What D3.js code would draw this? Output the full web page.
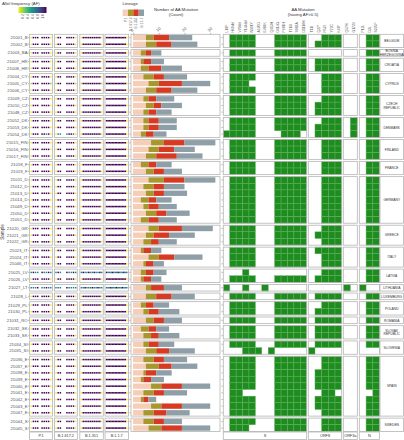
<!DOCTYPE html>
<html><head><meta charset="utf-8">
<script src="https://cdn.jsdelivr.net/npm/d3@7"></script>
<style>body{margin:0;background:#fff} svg text{font-family:"Liberation Sans",Arial,sans-serif}</style>
</head><body><svg id="c" width="404" height="440"></svg>
<script>
// ---------------- DATA ----------------
const samples = ["21001_B","21002_B","21003_BA","21007_HR","21008_HR","21004_CY","21005_CY","21006_CY","21009_CZ","21010_CZ","21048_CZ","21052_DK","21053_DK","21054_DK","21015_FIN","21016_FIN","21017_FIN","21018_F","21019_F","21011_D","21012_D","21013_D","21014_D","21049_D","21050_D","21051_D","21020_GR","21021_GR","21022_GR","21023_IT","21024_IT","21046_IT","21025_LV","21026_LV","21027_LT","21028_L","21029_PL","21030_PL","21031_RO","21032_SK","21033_SK","21034_SI","21035_SI","21036_E","21037_E","21038_E","21039_E","21040_E","21041_E","21042_E","21043_E","21047_E","21044_S","21045_S"];
const countries = ["BELGIUM","BOSNIA|HERZEGOVINA","CROATIA","CYPRUS","CZECH|REPUBLIC","DENMARK","FINLAND","FRANCE","GERMANY","GREECE","ITALY","LATVIA","LITHUANIA","LUXEMBURG","POLAND","ROMANIA","SLOVAK|REPUBLIC","SLOVENIA","SPAIN","SWEDEN"];
const countrySize = [2,1,2,3,3,3,3,2,7,3,3,2,1,1,2,1,2,2,9,2];
const lineages = ["P.1","B.1.617.2","B.1.351","B.1.1.7"];
const lineageColors = ["#F6CDB6","#A7972C","#D63A22","#8F9FA8"];

// Number of AA mutations per lineage (count)
const countP1    = [5,5,3,3,3,4,6,5,4,5,4,4,4,3,7,6,5,3,5,6,4,5,3,4,5,3,6,5,4,3,6,4,3,3,5,5,3,4,5,3,4,4,5,4,5,4,3,7,4,3,7,4,4,6];
const countDelta = [3,4,2,1,3,4,4,4,2,3,2,2,2,2,5,4,4,3,3,6,4,3,3,2,4,3,4,3,3,1,4,1,2,1,2,4,2,2,3,3,3,2,4,4,5,1,1,4,4,1,4,4,4,5];
const countBeta  = [6,6,2,3,5,4,9,6,3,3,3,4,4,3,8,6,8,3,4,8,4,4,3,4,4,4,9,6,3,3,6,3,3,3,5,6,3,4,4,3,3,4,5,4,5,4,3,8,4,2,8,5,4,8];
const countAlpha = [9,10,4,5,8,9,11,10,7,8,6,7,7,5,12,8,10,6,7,12,8,9,6,7,9,7,12,10,7,4,11,4,5,4,7,9,6,8,7,5,8,6,10,9,10,6,5,11,9,3,11,9,7,11];

// Allele frequency per lineage-marker position (digit 0..9 = AF 0..0.9+, '.' = not detected)
const afP1 = ["0999.99990","0999.99990","0999.99990","0999.99990","0999.99990","0999.99990","1999.99992","0999.99990","0999.99990","0999.99990","0999.99990","0999.99990","0999.99990","0999.99590","0999.99990","0999.99990","0999.99990","0999.99990","0999.99990","0999.99990","0999.99990","0999.99990","0999.99990","0999.99990","0999.99990","0999.99990","0999.99990","0999.99990","0999.99990","0999.99990","0999.99990","0999.99990","5955.95595","0999.99990","5559.55955","0999.99990","0999.99990","0999.99990","0999.99990","0999.99990","0999.99990","0999.99990","0999.99990","0999.99990","0999.99990","0999.99990","0999.99990","0999.99990","0999.99990","0999.99990","0999.99990","0999.99990","0999.99990","0999.99990"];
const afDelta = ["099..99990","099..99990","099..99990","099..99990","099..99990","099..99990","199..99991","099..99990","099..99990","099..99990","099..99990","099..99990","099..99990","055..59950","099..99990","099..99990","099..99990","099..99990","099..99990","099..99990","099..99990","099..99990","099..99990","099..99990","099..99990","099..99990","099..99990","099..99990","099..99990","099..99990","099..99990","099..99990","595..95595","099..99990","555..95555","099..99990","099..99990","099..99990","099..99990","099..99990","099..99990","099..99990","099..99990","099..99990","099..99990","099..99990","099..99990","099..99990","099..99990","099..99990","099..99990","099..99990","099..99990","099..99990"];
const afBeta = ["099999999990","099999999990","099999999990","099999999990","099999999990","099999999990","199999999991","099999999990","099999999990","099999999990","099999999990","099999999990","099999999990","099999999990","099999999990","099999999990","099999999990","099999999990","099999999990","099999999990","099999999990","099999999990","099999999990","099999999990","099999999990","099999999990","099999999990","099999999990","099999999990","099999999990","099999999990","099999999990","595595595595","099999999990","559555955955","099999999990","099999999990","099999999990","099999999990","099999999990","099999999990","099999999990","099999999990","099999999990","099999999990","099999999990","099999999990","099999999990","099999999990","099999999990","099999999990","099999999990","099999999990","099999999990"];
const afAlpha = ["999999999999990","999999999999990","999999999999990","999999999999990","999999999999990","999999999999990","999999999999991","999999999999990","999999999999990","999999999999990","999999999999990","999999999999990","999999999999990","999999999999990","999999999999990","999999999999990","999999999999990","999999999999990","999999999999990","999999999999990","999999999999990","999999999999990","999999999999990","999999999999990","999999999999990","999999999999990","999999999999990","999999999999990","999999999999990","999999999999990","999999999999990","999999999999990","955595559555955","999999999999990","555955595559555","999999999999990","999999999999990","999999999999990","999999999999990","999999999999990","999999999999990","999999999999990","999999999999990","999999999999990","999999999999990","999999999999990","999999999999990","999999999999990","999999999999990","999999999999990","999999999999990","999999999999990","999999999999990","999999999999990"];

// AA mutations having AF>0.5
const genes = ["S","ORF8","ORF3a","N"];
const mutS = ["L18F","H69del","V70del","Y144del","N501Y","A570D","E484K","Q613H","D614G","P681H","T716I","S982A","D1118H"];
const mutORF8 = ["T11I","Q27*","R52I","Y73C","K68*"];
const mutORF3a = ["Q57H","G172V"];
const mutN = ["P13L","D3L","S235F"];
const hitS = ["0111100011111","0111100011111","0111100011111","0111100011111","0111100011111","0111100011111","0111000011111","0111100011111","0111100011111","0111100011111","0111100011111","0111100011111","0111100011111","1111100001110","0111100011111","0111100011111","0111100011111","0111100011111","0111100011111","0111100011111","0111100011111","0111100011111","0111100011111","0111100011111","0111100011111","0111100011111","0111100011111","0111100011111","0111100011111","0111100011111","0111100011111","0111100011111","0001000000000","0111100011111","1001001000000","0111100011111","0111100011111","0111100011111","0111100011111","0111100011111","0111100011111","0111100011111","0001110100000","0111100011111","0111100011111","0111100011111","0111100011111","0111100011111","0110000011111","0111100011111","0111100011111","0111100011111","0111100011111","0111000011111"];
const hitORF8 = ["00111","01111","00000","01111","01111","00111","00111","00111","00111","01111","01111","00111","01111","01111","00111","00111","00111","00111","00111","00111","00111","00111","00111","00111","00111","00111","00111","01111","00111","01111","00111","00111","00111","01111","00000","01111","00111","01111","01111","01111","01111","01111","10000","00111","00111","01111","01111","01111","00110","01111","01111","00111","00111","00111"];
const hitORF3a = ["00","00","00","00","00","00","00","00","00","00","00","01","01","01","00","00","00","00","00","00","00","00","00","00","00","00","00","00","00","00","00","00","00","00","10","00","00","00","00","00","00","00","00","00","00","00","00","00","00","00","00","00","00","00"];
const hitN = ["011","011","011","011","011","011","011","011","011","011","011","011","011","011","011","011","011","011","011","011","011","011","011","011","011","011","011","011","011","011","011","011","011","011","100","011","011","011","011","011","011","011","000","011","011","011","011","011","001","011","011","011","011","011"];

const afTicks = [0.2,0.4,0.6,0.8,1.0];
const countTicks = [0,10,20,30];

// ---------------- LAYOUT ----------------
const svg = d3.select("#c");
const FONT = '"Liberation Sans",Arial,sans-serif';
const rowH = 6.65, gapY = 2.0, topY = 34.3;
const border = "#b5b5b5", txt = "#555";

const groups = [];
let start = 0;
countrySize.forEach((n, gi) => {
  const y0 = topY + gi * gapY + start * rowH;
  const names = samples.slice(start, start + n);
  const y = d3.scaleBand().domain(names).range([y0, y0 + n * rowH]);
  groups.push({gi, start, n, y0, y1: y0 + n * rowH, names, y});
  start += n;
});
const rowGroup = [];
groups.forEach(g => g.names.forEach((s, k) => rowGroup.push({g, i: g.start + k, s})));

// -------- Legends --------
svg.append("text").attr("x", 2).attr("y", 5).attr("font-size", 4.3).attr("fill", "#333").text("Allel frequency (AF)");
const defs = svg.append("defs");
const grad = defs.append("linearGradient").attr("id", "vg");
d3.range(0, 1.0001, 0.1).forEach(t => grad.append("stop").attr("offset", t).attr("stop-color", d3.interpolateViridis(1 - t)));
const afLeg = d3.scaleLinear().domain([0.2, 1.0]).range([22.7, 42.3]);
svg.append("rect").attr("x", 18.5).attr("y", 7).attr("width", 28).attr("height", 6).attr("fill", "url(#vg)");
afTicks.forEach(t => {
  svg.append("text").attr("transform", `translate(${afLeg(t) + 1.2},14) rotate(-90)`).attr("text-anchor", "end")
    .attr("font-size", 3.4).attr("fill", txt).text(d3.format(".1f")(t));
});

svg.append("text").attr("x", 122.5).attr("y", 5).attr("font-size", 4.3).attr("fill", "#333").text("Lineage");
const legX = d3.scaleBand().domain(lineages).range([122.7, 144]);
lineages.forEach((l, k) => {
  svg.append("rect").attr("x", legX(l)).attr("y", 9.5).attr("width", legX.bandwidth()).attr("height", 6.5).attr("fill", lineageColors[k]);
  svg.append("text").attr("transform", `translate(${legX(l) + legX.bandwidth() / 2 + 1.2},17.5) rotate(-90)`).attr("text-anchor", "end")
    .attr("font-size", 3.2).attr("fill", txt).text(l);
});

svg.append("text").attr("x", 176).attr("y", 11).attr("text-anchor", "middle").attr("font-size", 4.3).attr("fill", "#333").text("Number of AA Mutation");
svg.append("text").attr("x", 176).attr("y", 16).attr("text-anchor", "middle").attr("font-size", 4.3).attr("fill", "#333").text("(Count)");
svg.append("text").attr("x", 303).attr("y", 11).attr("text-anchor", "middle").attr("font-size", 4.3).attr("fill", "#333").text("AA Mutation");
svg.append("text").attr("x", 303).attr("y", 16).attr("text-anchor", "middle").attr("font-size", 4.3).attr("fill", "#333").text("(having AF>0.5)");

// -------- y labels --------
svg.append("text").attr("transform", "translate(3.8,232) rotate(-90)").attr("text-anchor", "middle").attr("font-size", 4.6).attr("fill", "#333").text("Sample");
rowGroup.forEach(r => {
  const cy = r.g.y(r.s) + rowH / 2;
  svg.append("text").attr("x", 27.6).attr("y", cy + 1.5).attr("text-anchor", "end").attr("font-size", 4.3).attr("fill", txt).text(r.s);
  [[28, 29.6], [129.2, 130.8], [221.5, 223.1]].forEach(([a, b]) =>
    svg.append("line").attr("x1", a).attr("x2", b).attr("y1", cy).attr("y2", cy).attr("stroke", "#555").attr("stroke-width", 0.4));
});

// -------- dot panels --------
const dotPanels = [[29.6, 52.4], [54.4, 77.3], [79.8, 103.3], [105, 128.4]];
const afData = [afP1, afDelta, afBeta, afAlpha];
const afColor = v => d3.interpolateViridis(1 - v);
lineages.forEach((l, li) => {
  const [x0, x1] = dotPanels[li];
  const nSlot = afData[li][0].length;
  const x = d3.scalePoint().domain(d3.range(nSlot)).range([x0 + 1.6, x1 - 1.6]);
  groups.forEach(g => {
    svg.append("rect").attr("x", x0).attr("y", g.y0).attr("width", x1 - x0).attr("height", g.y1 - g.y0)
      .attr("fill", "#fff").attr("stroke", border).attr("stroke-width", 0.8);
    g.names.forEach((s, k) => {
      const str = afData[li][g.start + k];
      const cy = g.y(s) + rowH / 2;
      str.split("").forEach((ch, j) => {
        if (ch === ".") return;
        const v = +ch / 9;
        svg.append("rect").attr("x", x(j) - 0.75).attr("y", cy - 0.75).attr("width", 1.5).attr("height", 1.5).attr("fill", afColor(v));
      });
    });
  });
  svg.append("rect").attr("x", x0).attr("y", 432).attr("width", x1 - x0).attr("height", 7.5).attr("fill", "#fff").attr("stroke", border).attr("stroke-width", 0.8);
  svg.append("text").attr("x", (x0 + x1) / 2).attr("y", 437.4).attr("text-anchor", "middle").attr("font-size", 3.8).attr("fill", "#333").text(l);
});

// -------- bar panel --------
const bx0 = 131, bx1 = 220;
const xb = d3.scaleLinear().domain([-0.8, 33.8]).range([bx0, bx1]);
const counts = [countP1, countDelta, countBeta, countAlpha];
groups.forEach(g => {
  svg.append("rect").attr("x", bx0).attr("y", g.y0).attr("width", bx1 - bx0).attr("height", g.y1 - g.y0)
    .attr("fill", "#fff").attr("stroke", border).attr("stroke-width", 0.8);
  const yb = g.y.copy().paddingInner(0.2).paddingOuter(0.1);
  g.names.forEach((s, k) => {
    const i = g.start + k;
    const stack = d3.stack().keys([0, 1, 2, 3]).value((d, key) => d[key])([counts.map(c => c[i])]);
    stack.forEach((ser, si) => {
      const [a, b] = ser[0];
      svg.append("rect").attr("x", xb(a)).attr("y", yb(s)).attr("width", xb(b) - xb(a)).attr("height", yb.bandwidth())
        .attr("fill", lineageColors[si]);
    });
  });
});
const axTop = svg.append("g").attr("transform", `translate(0,${topY})`)
  .call(d3.axisTop(xb).tickValues(countTicks).tickSize(1.5).tickFormat(d3.format("d")));
axTop.select(".domain").remove();
axTop.selectAll("line").attr("stroke", "#555").attr("stroke-width", 0.4);
axTop.selectAll("text").attr("font-size", 4).attr("fill", txt).attr("font-family", FONT)
  .attr("text-anchor", "start").attr("transform", "translate(0,-1) rotate(-45)").attr("dx", 0).attr("dy", 0).attr("y", -2).attr("x", 0);

// -------- heatmap --------
const heatPanels = [[223.3, 306.7], [308.3, 341.7], [343.3, 357.3], [359.3, 379.6]];
const muts = [mutS, mutORF8, mutORF3a, mutN];
const hits = [hitS, hitORF8, hitORF3a, hitN];
genes.forEach((gname, gi) => {
  const [x0, x1] = heatPanels[gi];
  const xh = d3.scaleBand().domain(muts[gi]).range([x0, x1]);
  groups.forEach(g => {
    svg.append("rect").attr("x", x0).attr("y", g.y0).attr("width", x1 - x0).attr("height", g.y1 - g.y0)
      .attr("fill", "#fff");
    g.names.forEach((s, k) => {
      const str = hits[gi][g.start + k];
      muts[gi].forEach((m, j) => {
        if (str[j] !== "1") return;
        svg.append("rect").attr("x", xh(m)).attr("y", g.y(s)).attr("width", xh.bandwidth()).attr("height", rowH)
          .attr("fill", "#1E8C1E").attr("stroke", "#5DB35D").attr("stroke-width", 0.45);
      });
    });
    svg.append("rect").attr("x", x0).attr("y", g.y0).attr("width", x1 - x0).attr("height", g.y1 - g.y0)
      .attr("fill", "none").attr("stroke", border).attr("stroke-width", 0.8);
  });
  muts[gi].forEach(m => {
    const cx = xh(m) + xh.bandwidth() / 2;
    svg.append("text").attr("transform", `translate(${cx + 1.2},32.5) rotate(-90)`).attr("font-size", 3.4).attr("fill", txt).text(m);
  });
  svg.append("rect").attr("x", x0).attr("y", 432).attr("width", x1 - x0).attr("height", 7.5).attr("fill", "#fff").attr("stroke", border).attr("stroke-width", 0.8);
  svg.append("text").attr("x", (x0 + x1) / 2).attr("y", 437.4).attr("text-anchor", "middle").attr("font-size", 3.8).attr("fill", "#333").text(gname);
});

// -------- country strips --------
groups.forEach(g => {
  svg.append("rect").attr("x", 380).attr("y", g.y0).attr("width", 23.5).attr("height", g.y1 - g.y0)
    .attr("fill", "#fff").attr("stroke", border).attr("stroke-width", 0.8);
  const lines = countries[g.gi].split("|");
  const cy = (g.y0 + g.y1) / 2;
  lines.forEach((ln, k) => {
    svg.append("text").attr("x", 391.75).attr("y", cy + 1.3 + (k - (lines.length - 1) / 2) * 3.6)
      .attr("text-anchor", "middle").attr("font-size", 3.3).attr("fill", "#333").text(ln);
  });
});
</script></body></html>
